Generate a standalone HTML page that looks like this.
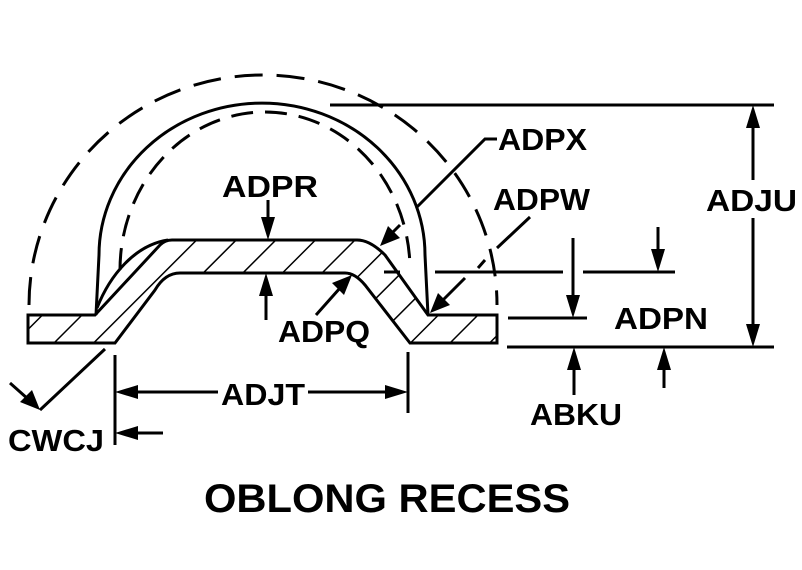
<!DOCTYPE html>
<html><head><style>
html,body{margin:0;padding:0;background:#fff;}
svg{display:block;}
text{font-family:"Liberation Sans",Arial,sans-serif;font-weight:bold;fill:#000;}
</style></head><body>
<svg width="802" height="570" viewBox="0 0 802 570" xmlns="http://www.w3.org/2000/svg">
<defs>
<pattern id="h" patternUnits="userSpaceOnUse" width="28" height="28" patternTransform="rotate(45)">
<line x1="0" y1="0" x2="0" y2="28" stroke="#000" stroke-width="3"/>
</pattern>
</defs>
<g fill="none" stroke="#000" stroke-width="3">
<path d="M29,305 A234,230 0 0 1 497,305" stroke-dasharray="28,14"/>
<path d="M96,315 L99,255 A163,152 0 0 1 425,255 L428,315"/>
<path d="M120,270 A145,158 0 0 1 410,270" stroke-dasharray="22,12"/>
<path d="M97,308 C110,275 135,245 168,240"/>
<path d="M28,315 L95,315 L160,245 Q165,240 172,240 L357,240 Q370,240 385,255 L428,315 L497,315 L497,343 L410,343 L365,285 Q355,273 345,273 L180,273 Q165,273 155,290 L115,343 L28,343 Z" fill="url(#h)"/>
<line x1="330" y1="105" x2="774" y2="105"/>
<line x1="507" y1="347" x2="774" y2="347"/>
<line x1="753" y1="110" x2="753" y2="180"/>
<line x1="753" y1="218" x2="753" y2="342"/>
<path d="M384,272 H400 M435,272 H563 M583,272 H675" />
<line x1="508" y1="318" x2="587" y2="318"/>
<line x1="573" y1="238" x2="573" y2="305"/>
<line x1="658" y1="227" x2="658" y2="262"/>
<line x1="574" y1="360" x2="574" y2="395"/>
<line x1="664" y1="360" x2="664" y2="388"/>
<polyline points="497,139 485,139 416,208"/>
<line x1="400" y1="225" x2="385" y2="240"/>
<line x1="530" y1="217" x2="497" y2="248"/>
<line x1="485" y1="260" x2="478" y2="268"/>
<line x1="465" y1="278" x2="440" y2="303"/>
<line x1="268" y1="200" x2="268" y2="225"/>
<line x1="266" y1="288" x2="266" y2="320"/>
<line x1="316" y1="315" x2="340" y2="288"/>
<line x1="115" y1="355" x2="115" y2="445"/>
<line x1="408" y1="352" x2="408" y2="413"/>
<line x1="130" y1="392" x2="218" y2="392"/>
<line x1="308" y1="392" x2="395" y2="392"/>
<line x1="128" y1="433" x2="163" y2="433"/>
<line x1="105" y1="349" x2="40" y2="410"/>
<line x1="10" y1="383" x2="28" y2="399"/>
</g>
<g fill="#000">
<polygon points="753,105 746,128 760,128"/>
<polygon points="753,347 746,324 760,324"/>
<polygon points="573,318 566,295 580,295"/>
<polygon points="658,272 651,249 665,249"/>
<polygon points="574,347 567,370 581,370"/>
<polygon points="664,347 657,370 671,370"/>
<polygon points="380,246 388,226 400,238"/>
<polygon points="430,313 438,293 450,305"/>
<polygon points="268,240 261,217 275,217"/>
<polygon points="266,273 259,296 273,296"/>
<polygon points="352,275 332,283 344,295"/>
<polygon points="115,392 138,385 138,399"/>
<polygon points="408,392 385,385 385,399"/>
<polygon points="115,433 138,426 138,440"/>
<polygon points="40,410 20,402 32,390"/>
</g>
<g font-size="31">
<text x="498" y="150" textLength="89" lengthAdjust="spacingAndGlyphs">ADPX</text>
<text x="493" y="210" textLength="97" lengthAdjust="spacingAndGlyphs">ADPW</text>
<text x="706" y="211" textLength="91" lengthAdjust="spacingAndGlyphs">ADJU</text>
<text x="614" y="329" textLength="94" lengthAdjust="spacingAndGlyphs">ADPN</text>
<text x="530" y="425" textLength="92" lengthAdjust="spacingAndGlyphs">ABKU</text>
<text x="222" y="197" textLength="96" lengthAdjust="spacingAndGlyphs">ADPR</text>
<text x="278" y="342" textLength="92" lengthAdjust="spacingAndGlyphs">ADPQ</text>
<text x="221" y="405" textLength="84" lengthAdjust="spacingAndGlyphs">ADJT</text>
<text x="8" y="451" textLength="96" lengthAdjust="spacingAndGlyphs">CWCJ</text>
</g>
<text x="204" y="512" font-size="40" textLength="366" lengthAdjust="spacingAndGlyphs">OBLONG RECESS</text>
</svg>
</body></html>
